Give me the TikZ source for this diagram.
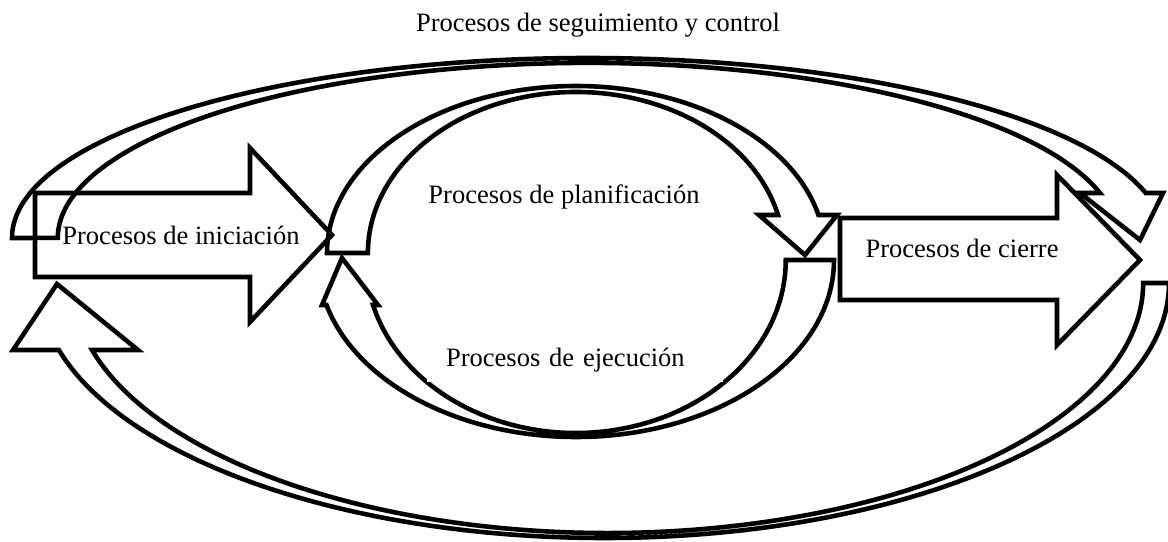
\documentclass[tikz,border=0pt]{standalone}
\usepackage{fontspec}
\setmainfont{Liberation Serif}

\begin{document}
\begin{tikzpicture}[x=0.02cm, y=0.02cm,
    font=\fontsize{15.1pt}{18pt}\selectfont,
    line width=2.6pt, line join=miter]

\useasboundingbox (0,0) rectangle (1168,541);
\clip (0,0) rectangle (1168,541);

% Procesos de seguimiento y control (arriba)
\draw (12,303) arc[start angle=180, end angle=14.48, x radius=576, y radius=180]
    -- (1163,348) -- (1140,301) -- (1080,348) -- (1100,348)
    arc[start angle=14.88, end angle=180, x radius=530, y radius=175] -- cycle;

% Procesos de seguimiento y control (abajo)
\draw (1169,258) arc[start angle=0, end angle=-164.77, x radius=565, y radius=255]
    -- (13,191) -- (57,257) -- (138,191) -- (92,191)
    arc[start angle=-164.45, end angle=0, x radius=535.4, y radius=250] -- cycle;

% Planificacion
\draw (327,288) arc[start angle=180, end angle=13.15, x radius=249, y radius=167]
    -- (837,326) -- (805,286) -- (759,326) -- (778,326)
    arc[start angle=13.65, end angle=180, x radius=208, y radius=161] -- cycle;

% Ejecucion
\draw (834,281) arc[start angle=0, end angle=-165.27, x radius=258, y radius=177]
    -- (322,236) -- (342,283) -- (378,236) -- (373,236)
    arc[start angle=-164.92, end angle=0, x radius=210, y radius=173] -- cycle;

% Iniciacion
\draw (35,348) -- (250,348) -- (250,393) -- (332,306)
    -- (250,219) -- (250,264) -- (35,264) -- cycle;

% Cierre
\draw (840,323) -- (1057,323) -- (1057,366) -- (1140,281)
    -- (1057,196) -- (1057,241) -- (840,241) -- cycle;

% Textos
\node (seguimiento) at (598,516) {Procesos de seguimiento y control};
\node (iniciacion) at (181,306) {Procesos de iniciación};
\node (planificacion) at (564,344) {Procesos de planificación};
\node[fill=white,
    minimum width=5.92cm,
    minimum height=0.88cm,
    inner xsep=0.38cm,
    text width=5.16cm, align=left
] (ejecucion) at (575,181) {Procesos de ejecución};
\node (cierre) at (962,293) {Procesos de cierre};

\end{tikzpicture}
\end{document}
